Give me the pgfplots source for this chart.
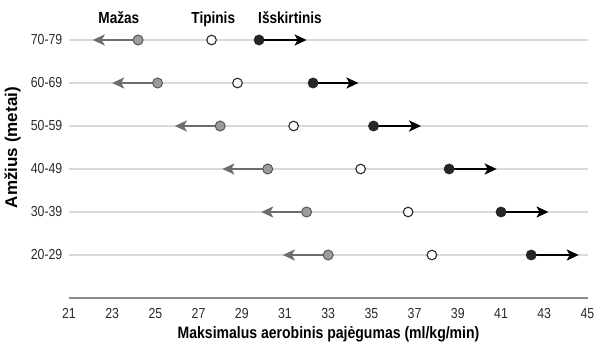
\documentclass[border=0pt]{standalone}
\usepackage{fontspec}
\setmainfont[FakeStretch=0.85]{Liberation Sans}
\newfontfamily\ylabelfont{Liberation Sans}
\usepackage{pgfplots}
\usepackage{pgfplotstable}
\pgfplotsset{compat=1.18}
\usetikzlibrary{arrows.meta}

\definecolor{gridgray}{HTML}{DADADA}
\definecolor{axisgray}{HTML}{8A8A8A}
\definecolor{lowfill}{HTML}{9C9C9C}
\definecolor{lowedge}{HTML}{585858}
\definecolor{lowarrow}{HTML}{6E6E6E}
\definecolor{highfill}{HTML}{262626}
\definecolor{tickgray}{HTML}{2A2A2A}

% age group row, low value and its arrow tip, typical value, high value and its arrow tip
\pgfplotstableread{
row low lowtip typ high hightip
6 24.2 22.1 27.6 29.8 32.0
5 25.1 23.0 28.8 32.3 34.4
4 28.0 25.9 31.4 35.1 37.3
3 30.2 28.1 34.5 38.6 40.8
2 32.0 29.9 36.7 41.0 43.2
1 33.0 30.9 37.8 42.4 44.6
}\vo

\begin{document}
\begin{tikzpicture}
\useasboundingbox (-69pt,-50pt) rectangle (526pt,298pt);
\begin{axis}[
  at={(0,0)}, anchor=south west,
  x=21.6pt, y=43pt,
  xmin=21, xmax=45.03, ymin=0, ymax=6.6,
  clip=false,
  axis x line=bottom, axis y line=left,
  axis line style={-},
  x axis line style={draw=axisgray, line width=2pt},
  y axis line style={draw=none},
  tick style={draw=none},
  xtick={21,23,...,45},
  ytick={1,...,6},
  yticklabels={20-29,30-39,40-49,50-59,60-69,70-79},
  ymajorgrids,
  grid style={draw=gridgray, line width=1.4pt},
  ticklabel style={font=\fontsize{14.5}{16}\selectfont, text=tickgray},
  /pgf/number format/assume math mode=true,
  xticklabel style={yshift=-5pt},
  yticklabel style={xshift=-1pt},
  xlabel={Maksimalus aerobinis pajėgumas (ml/kg/min)},
  xlabel style={at={(axis description cs:0.5,0)}, anchor=center, yshift=-36pt,
    font=\bfseries\fontsize{16.5}{18}\selectfont},
  ylabel={Amžius (metai)},
  ylabel style={at={(axis description cs:0,0.53)}, anchor=center, yshift=56.5pt,
    font=\ylabelfont\bfseries\fontsize{17}{19}\selectfont},
]
% arrows pointing towards lower and higher capacity
\addplot[draw=lowarrow, line width=2.4pt,
  -{Stealth[length=12pt, width=11pt, inset=3pt]},
  quiver={u=\thisrow{lowtip}-\thisrow{low}, v=0}]
  table[x=low, y=row] {\vo};
\addplot[draw=black, line width=2.2pt,
  -{Stealth[length=12pt, width=11pt, inset=3pt]},
  quiver={u=\thisrow{hightip}-\thisrow{high}, v=0}]
  table[x=high, y=row] {\vo};
% markers
\addplot[only marks, mark=*, mark size=5pt,
  mark options={fill=lowfill, draw=lowedge, line width=1pt}]
  table[x=low, y=row] {\vo};
\addplot[only marks, mark=*, mark size=4.8pt,
  mark options={fill=white, draw=tickgray, line width=1.1pt}]
  table[x=typ, y=row] {\vo};
\addplot[only marks, mark=*, mark size=5pt,
  mark options={fill=highfill, draw=highfill, line width=0.8pt}]
  table[x=high, y=row] {\vo};
% column headers
\node[anchor=base, font=\bfseries\fontsize{16}{18}\selectfont] at (axis cs:23.31,6.395) {Mažas};
\node[anchor=base, font=\bfseries\fontsize{16}{18}\selectfont] at (axis cs:27.68,6.395) {Tipinis};
\node[anchor=base, font=\bfseries\fontsize{16}{18}\selectfont] at (axis cs:31.23,6.395) {Išskirtinis};
\end{axis}
\end{tikzpicture}
\end{document}
